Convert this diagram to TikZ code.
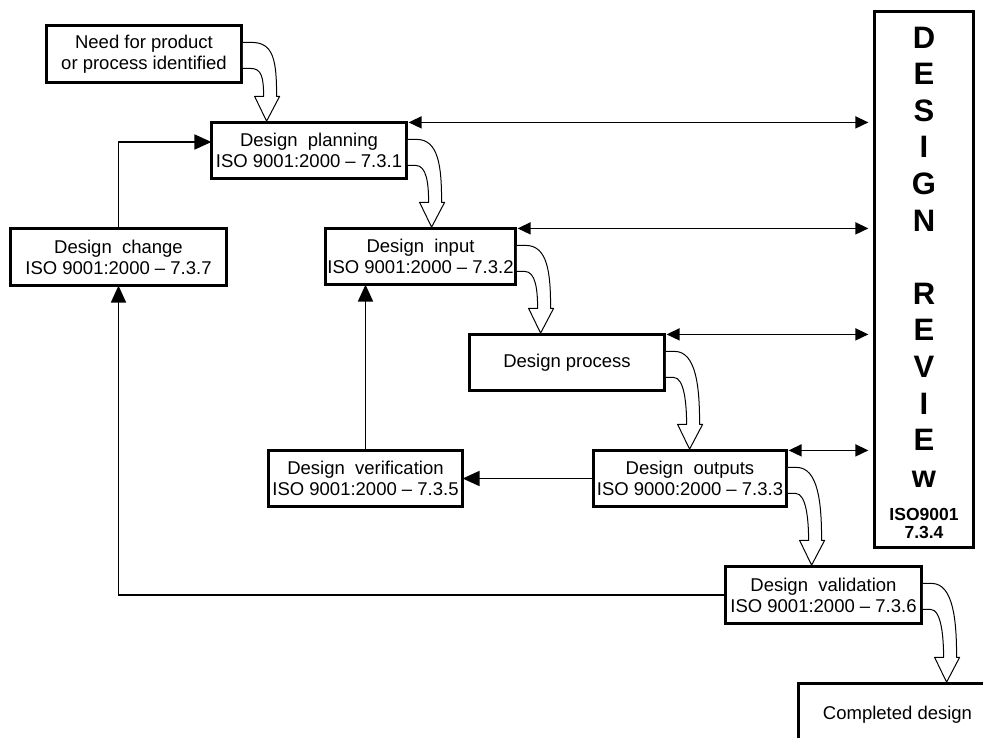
\documentclass[tikz,border=0pt]{standalone}
\usepackage{fontspec}
\setmainfont{Liberation Sans}
\usepackage{tikz}
\usetikzlibrary{arrows.meta,calc}

\newcommand{\boxfont}{\fontsize{18.5}{21}\selectfont}
\newcommand{\bandarrow}[2]{%
  \coordinate (s) at (#1.north east);
  \coordinate (t) at (s |- #2.north);
  \draw[band] ($(s)+(1.3,17)$) -- ($(s)+(10,17)$) .. controls ($(s)+(32,17)$) and ($(t)+(35,-62)$) .. ($(t)+(35,-26)$)
    -- ($(t)+(38,-26)$) -- ($(t)+(25,-1.3)$) -- ($(t)+(13,-26)$) -- ($(t)+(22,-26)$)
    .. controls ($(t)+(22,-45)$) and ($(s)+(20,43)$) .. ($(s)+(9,43)$) -- ($(s)+(1.3,43)$);
}

\begin{document}
\begin{tikzpicture}[x=1pt,y=-1pt,
  stage/.style={draw,line width=2.8pt,fill=white,inner sep=0pt,outer sep=0pt,align=center,font=\boxfont},
  band/.style={draw,fill=white,line width=1pt,line join=round},
  link/.style={line width=1.8pt,-{Triangle[length=17pt,width=15pt]}},
  review link/.style={line width=1.5pt,{Triangle[length=13pt,width=12pt]}-{Triangle[length=13pt,width=12pt]}},
  letter/.style={anchor=base,inner sep=0pt,font=\fontsize{31}{36}\selectfont\bfseries}]
  \useasboundingbox (0,0) rectangle (983,738);
  \clip (0,0) rectangle (983,738);

  \node[stage,minimum width=195.2pt,minimum height=57.2pt] (need) at (144,54) {Need for product\\or process identified};
  \node[stage,minimum width=195.2pt,minimum height=56.2pt] (plan) at (309,150.5) {Design\ \ planning\\ISO 9001:2000 -- 7.3.1};
  \node[stage,minimum width=190.2pt,minimum height=56.2pt] (input) at (420.5,256.5) {Design\ \ input\\ISO 9001:2000 -- 7.3.2};
  \node[stage,minimum width=216.2pt,minimum height=57.2pt] (change) at (118.5,257) {Design\ \ change\\ISO 9001:2000 -- 7.3.7};
  \node[stage,minimum width=195.2pt,minimum height=56.2pt] (process) at (567,362.5) {Design process};
  \node[stage,minimum width=193.2pt,minimum height=56.2pt] (outputs) at (690,478.5) {Design\ \ outputs\\ISO 9000:2000 -- 7.3.3};
  \node[stage,minimum width=194.2pt,minimum height=56.2pt] (verif) at (365.5,478.5) {Design\ \ verification\\ISO 9001:2000 -- 7.3.5};
  \node[stage,minimum width=196.2pt,minimum height=57.2pt] (valid) at (823.5,595) {Design\ \ validation\\ISO 9001:2000 -- 7.3.6};
  \node[stage,minimum width=198.2pt,minimum height=63.2pt] (done) at (897.5,715) {Completed design};

  \node[stage,minimum width=99.2pt,minimum height=536.2pt] (review) at (924,279.5) {};
  \foreach \ch/\k in {D/0,E/1,S/2,I/3,G/4,N/5,R/7,E/8,V/9,I/10,E/11,w/12}
    \node[letter] (rv\k) at (924,{48.1+36.6*\k}) {\ch};
  \node[inner sep=0pt,align=center,font=\fontsize{17.5}{18.5}\selectfont\bfseries] (rvref) at (924,523.3) {ISO9001\\7.3.4};

  \bandarrow{need}{plan}
  \bandarrow{plan}{input}
  \bandarrow{input}{process}
  \bandarrow{process}{outputs}
  \bandarrow{outputs}{valid}
  \bandarrow{valid}{done}

  \foreach \n in {plan,input,process,outputs}
    \draw[review link] ($(\n.north east)+(2,0)$) -- ($(\n.north east -| review.west)+(-6,0)$);

  \draw[link] (change.north) |- ($(plan.west)+(0,-8.5)$);
  \draw[link] (valid.west) -| (change.south);
  \draw[link] (verif.north) -- (verif.north |- input.south);
  \draw[link] (outputs.west) -- (verif.east);
\end{tikzpicture}
\end{document}
